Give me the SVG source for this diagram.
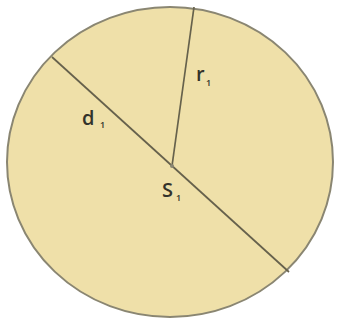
<svg xmlns="http://www.w3.org/2000/svg" width="338" height="322" viewBox="0 0 338 322">
<style>
.ln{stroke:#66614c;stroke-width:1.7;fill:none}
.t{font-family:"Open Sans","Liberation Sans",sans-serif;fill:#33332b;font-size:20px;font-weight:600}
.s{font-family:"Open Sans","Liberation Sans",sans-serif;fill:#33332b;font-size:9px;font-weight:600}
</style>
<rect width="338" height="322" fill="#ffffff"/>
<g id="circle">
<ellipse cx="170" cy="162" rx="163" ry="155" fill="#efe0a9" stroke="#8a8672" stroke-width="2"/>
</g>
<g id="connectors">
<line class="ln" x1="52" y1="57" x2="289" y2="272"/>
<line class="ln" x1="172" y1="166" x2="194" y2="7"/>
<circle cx="172" cy="166" r="2" fill="#8a8672"/>
</g>
<g id="label-r">
<text class="t" x="196" y="81">r</text><text class="s" x="206" y="86">1</text>
</g>
<g id="label-d">
<text class="t" x="82" y="125">d</text><text class="s" x="100" y="128">1</text>
</g>
<g id="label-s">
<text class="t" x="162" y="197">S</text><text class="s" x="176" y="201">1</text>
</g>
</svg>
